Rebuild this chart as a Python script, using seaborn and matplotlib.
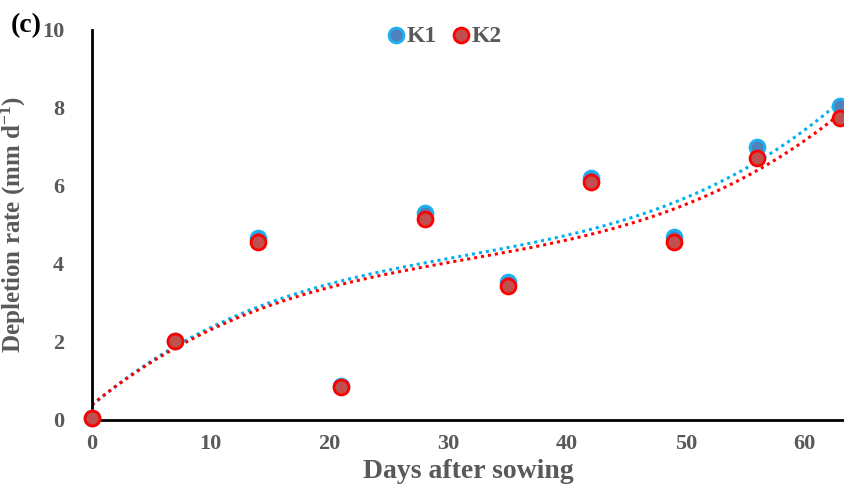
import numpy as np
import pandas as pd
import matplotlib
matplotlib.use("Agg")
import matplotlib.pyplot as plt
import seaborn as sns

days = [0, 7, 14, 21, 28, 35, 42, 49, 56, 63]
k1 = [0.05, 2.03, 4.67, 0.87, 5.31, 3.54, 6.20, 4.69, 7.00, 8.05]
k2 = [0.05, 2.02, 4.57, 0.83, 5.15, 3.42, 6.10, 4.57, 6.72, 7.75]
series_names = ["K1", "K2"]

sns.set_theme(style="white")
plt.rcParams['font.family'] = ['Liberation Serif', 'DejaVu Serif']
plt.rcParams['mathtext.fontset'] = 'custom'
plt.rcParams['mathtext.rm'] = 'Liberation Serif:bold'
plt.rcParams['mathtext.it'] = 'Liberation Serif:bold'

df = pd.DataFrame({"day": days * 2, "rate": k1 + k2,
                   "series": [series_names[0]] * len(days) + [series_names[1]] * len(days)})

fig = plt.figure(figsize=(8.44, 4.91), dpi=100)
ax = fig.add_axes([0.109, 0.145, 0.891, 0.794])

face = {"K1": "#4f81bd", "K2": "#c0504d"}
edge = {"K1": "#1fb0f0", "K2": "#ff0000"}
line = {"K1": "#00b0f0", "K2": "#ff0000"}

for name in series_names:
    sub = df[df.series == name]
    sns.regplot(data=sub, x="day", y="rate", order=3, ci=None, scatter=False, ax=ax,
                line_kws={"color": line[name], "linestyle": (0, (1, 1.3)), "linewidth": 2.2})
for name in series_names:
    sub = df[df.series == name]
    sns.scatterplot(data=sub, x="day", y="rate", ax=ax, s=115, color=face[name],
                    edgecolor=edge[name], linewidth=2, label=name, zorder=5, clip_on=False)

ax.set_xlim(0, 63.3)
ax.set_ylim(0, 10)
ax.set_xticks(range(0, 61, 10))
ax.set_yticks(range(0, 11, 2))
for s in ["top", "right"]:
    ax.spines[s].set_visible(False)
for s in ["left", "bottom"]:
    ax.spines[s].set_color("black")
    ax.spines[s].set_linewidth(2)
ax.tick_params(axis="x", length=0, labelsize=16, labelcolor="#595959", pad=10)
ax.tick_params(axis="y", length=0, labelsize=16, labelcolor="#595959", pad=20)
for lab in ax.get_xticklabels() + ax.get_yticklabels():
    lab.set_fontweight("bold")
ax.set_xlabel("Days after sowing", fontsize=20, fontweight="bold", color="#595959", labelpad=4)
ax.set_ylabel("Depletion rate (mm d$^{-1}$)", fontsize=18, fontweight="bold", color="#595959", labelpad=10)

leg = ax.legend(loc="center", bbox_to_anchor=(0.465, 0.985), ncol=2, frameon=False,
                handletextpad=-0.15, columnspacing=0.4, fontsize=17, markerscale=1.0,
                borderpad=0, handlelength=1.2)
for t in leg.get_texts():
    t.set_color("#595959")
    t.set_fontweight("bold")

fig.text(0.013, 0.935, "(c)", fontsize=20, fontweight="bold", color="black")

fig.savefig("out.png", dpi=100)
